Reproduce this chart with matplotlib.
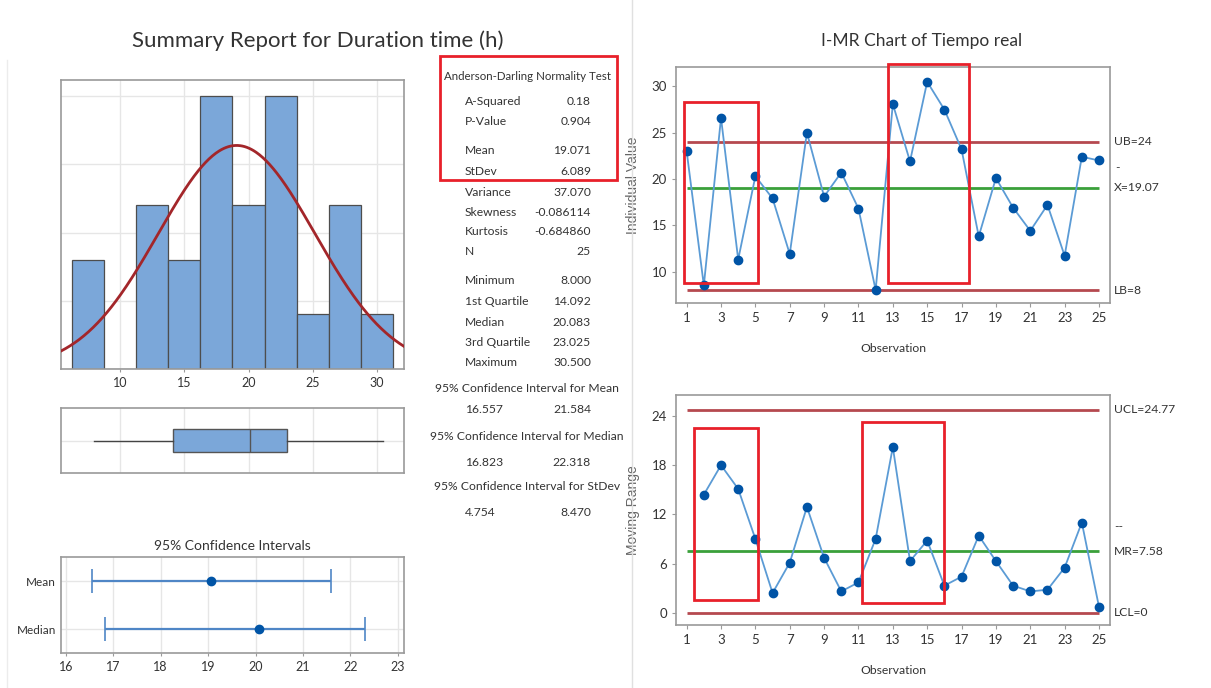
import numpy as np
import matplotlib
matplotlib.use("Agg")
import matplotlib.pyplot as plt
from matplotlib.patches import Rectangle
from matplotlib.lines import Line2D

plt.rcParams['font.family'] = ['Lato', 'DejaVu Sans']

# datos
obs = list(range(1, 26))
valores = [23.0, 8.5, 26.6, 11.3, 20.3, 17.9, 11.9, 25.0, 18.1, 20.7, 16.8, 8.0, 28.1,
           21.9, 30.5, 27.5, 23.2, 13.8, 20.1, 16.9, 14.4, 17.2, 11.7, 22.4, 22.0]
obs_mr = list(range(2, 26))
rango_movil = [14.4, 18.0, 15.1, 9.0, 2.4, 6.1, 12.9, 6.7, 2.6, 3.7, 9.0, 20.2, 6.3,
               8.8, 3.3, 4.4, 9.4, 6.3, 3.3, 2.6, 2.8, 5.5, 11.0, 0.7]
bordes_hist = [6.25, 8.75, 11.25, 13.75, 16.25, 18.75, 21.25, 23.75, 26.25, 28.75, 31.25]

media, desv = 19.071, 6.089
caja = dict(whislo=8.0, q1=14.092, med=20.083, q3=23.025, whishi=30.5)
ic_nombres = ['Mean', 'Median']
ic_centro = [19.071, 20.083]
ic_bajo = [16.557, 16.823]
ic_alto = [21.584, 22.318]

ub, x_barra, lb = 24, 19.07, 8
ucl, mr_barra, lcl = 24.77, 7.58, 0

resumen = [
    ('A-Squared', '0.18'), ('P-Value', '0.904'), None,
    ('Mean', '19.071'), ('StDev', '6.089'), ('Variance', '37.070'),
    ('Skewness', '-0.086114'), ('Kurtosis', '-0.684860'), ('N', '25'), None,
    ('Minimum', '8.000'), ('1st Quartile', '14.092'), ('Median', '20.083'),
    ('3rd Quartile', '23.025'), ('Maximum', '30.500'),
]
intervalos = [
    ('95% Confidence Interval for Mean', '16.557', '21.584'),
    ('95% Confidence Interval for Median', '16.823', '22.318'),
    ('95% Confidence Interval for StDev', '4.754', '8.470'),
]

W, H = 1211, 688
fig = plt.figure(figsize=(W / 100, H / 100), dpi=100)
fig.patch.set_facecolor('white')


def caja_px(l, t, r, b):
    return [l / W, 1 - b / H, (r - l) / W, (b - t) / H]


def fx(x):
    return x / W


def fy(y):
    return 1 - y / H


gris_borde = '#9a9a9a'
azul_barra = '#7ba7d9'
texto = '#333333'
rojo_caja = '#e8202a'
fs = 8.7


def estilo(ax):
    for s in ax.spines.values():
        s.set_color(gris_borde)
        s.set_linewidth(1.2)
    ax.tick_params(colors=texto, labelsize=9.5, length=3, color=gris_borde)


# separadores
fig.add_artist(Line2D([fx(632), fx(632)], [0, 1], color='#e0e0e0', lw=1))
fig.add_artist(Line2D([fx(7), fx(7)], [0, fy(60)], color='#ececec', lw=1))

fig.text(fx(318), fy(41), 'Summary Report for Duration time (h)', ha='center', va='center',
         fontsize=16, color=texto)
fig.text(fx(922), fy(41), 'I-MR Chart of Tiempo real', ha='center', va='center',
         fontsize=12.5, color=texto)

# histograma
ax = fig.add_axes(caja_px(61, 80, 404, 369))
ax.hist(valores, bins=bordes_hist, density=True, color=azul_barra, edgecolor='#4d4d4d',
        linewidth=0.9, zorder=2)
xs = np.linspace(5.4, 32.1, 300)
ax.plot(xs, np.exp(-0.5 * ((xs - media) / desv) ** 2) / (desv * np.sqrt(2 * np.pi)),
        color='#a3262a', lw=2, zorder=3)
ax.set_xlim(5.4, 32.1)
ax.set_ylim(0, 0.0847)
ax.set_xticks([10, 15, 20, 25, 30])
ax.set_yticks([0.02, 0.04, 0.06, 0.08])
ax.set_yticklabels([])
ax.grid(True, color='#e6e6e6', lw=1, zorder=0)
estilo(ax)
ax.tick_params(axis='y', length=0)
ax.tick_params(axis='x', length=2, labelsize=9)

# diagrama de caja
ax = fig.add_axes(caja_px(61, 408, 404, 473))
ax.bxp([caja], vert=False, positions=[1], widths=0.7, showfliers=False, showcaps=False,
       patch_artist=True,
       boxprops=dict(facecolor=azul_barra, edgecolor='#555555', lw=1),
       medianprops=dict(color='#555555', lw=1),
       whiskerprops=dict(color='#444444', lw=1))
ax.set_xlim(5.4, 32.1)
ax.set_ylim(0, 2)
ax.set_xticks([10, 15, 20, 25, 30])
ax.set_yticks([1])
ax.set_xticklabels([])
ax.set_yticklabels([])
ax.grid(True, color='#e6e6e6', lw=1, zorder=0)
ax.set_axisbelow(True)
estilo(ax)
ax.tick_params(length=0)

# intervalos de confianza
ax = fig.add_axes(caja_px(61, 557, 404, 653))
pos = [2, 1]
ax.errorbar(ic_centro, pos,
            xerr=[np.array(ic_centro) - np.array(ic_bajo), np.array(ic_alto) - np.array(ic_centro)],
            fmt='o', color='#0054a6', ecolor='#4f86c6', elinewidth=1.6, capsize=8.5,
            capthick=1.2, markersize=6, zorder=3)
ax.set_xlim(15.9, 23.13)
ax.set_ylim(0.5, 2.5)
ax.set_yticks(pos)
ax.set_yticklabels(ic_nombres)
ax.set_xticks(range(16, 24))
ax.grid(True, color='#e6e6e6', lw=1, zorder=0)
estilo(ax)
ax.tick_params(axis='y', length=0, labelsize=8.5)
ax.tick_params(axis='x', length=2, labelsize=9)
ax.set_title('95% Confidence Intervals', fontsize=10, color=texto, pad=5)

# texto de resumen
fig.text(fx(528), fy(76), 'Anderson-Darling Normality Test', ha='center', va='center',
         fontsize=8.3, color=texto)
filas_y = [101.7, 121.7, None, 150.7, 171.7, 192.7, 212.3, 231.7, 251.7, None,
           281, 301.7, 322.7, 342.7, 362.7]
for fila, yy in zip(resumen, filas_y):
    if fila is None:
        continue
    fig.text(fx(465), fy(yy), fila[0], ha='left', va='center', fontsize=fs, color=texto)
    fig.text(fx(591), fy(yy), fila[1], ha='right', va='center', fontsize=fs, color=texto)
for (tit, a, b), yt, yv in zip(intervalos, [388.3, 436.7, 486.7], [410, 463, 513]):
    fig.text(fx(527), fy(yt), tit, ha='center', va='center', fontsize=fs, color=texto)
    fig.text(fx(465), fy(yv), a, ha='left', va='center', fontsize=fs, color=texto)
    fig.text(fx(591), fy(yv), b, ha='right', va='center', fontsize=fs, color=texto)
fig.add_artist(Rectangle((fx(440), fy(180)), fx(617) - fx(440), fy(56) - fy(180),
                         transform=fig.transFigure, fill=False, edgecolor=rojo_caja, lw=2))

linea_azul = '#5b9bd5'
punto_azul = '#0054a6'
rojo_lim = '#b5494f'
verde = '#3aa03a'


def carta(ax, x, y, ylim, yticks, ylabel, cajas):
    ax.plot(x, y, '-', color=linea_azul, lw=1.3, zorder=3)
    ax.plot(x, y, 'o', color=punto_azul, markersize=6, zorder=4)
    ax.set_xlim(0.38, 25.64)
    ax.set_ylim(*ylim)
    ax.set_xticks(range(1, 26, 2))
    ax.set_yticks(yticks)
    estilo(ax)
    ax.set_xlabel('Observation', fontsize=fs, color=texto, labelpad=14)
    ax.set_ylabel(ylabel, fontsize=10, color='#666666', family='Liberation Sans', labelpad=8)
    for (x0, x1, y0, y1) in cajas:
        ax.add_patch(Rectangle((x0, y0), x1 - x0, y1 - y0, fill=False, edgecolor=rojo_caja,
                               lw=2, clip_on=False, zorder=6))


# carta I
ax = fig.add_axes(caja_px(676, 67, 1110, 303))
carta(ax, obs, valores, (6.6, 32.1), [10, 15, 20, 25, 30], 'Individual Value',
      [(0.84, 5.15, 8.78, 28.35), (12.7, 17.41, 8.78, 32.4)])
ax.hlines([ub, lb], 1, 25, color=rojo_lim, lw=2, zorder=2)
ax.hlines(x_barra, 1, 25, color=verde, lw=2, zorder=2)
ax.text(1.01, ub, 'UB=%g' % ub, transform=ax.get_yaxis_transform(), va='center',
        fontsize=fs, color=texto)
ax.text(1.01, lb, 'LB=%g' % lb, transform=ax.get_yaxis_transform(), va='center',
        fontsize=fs, color=texto)
ax.text(1.01, x_barra + 0.6, 'X=%.2f' % x_barra, transform=ax.get_yaxis_transform(),
        va='top', fontsize=fs, color=texto)
ax.text(1.012, x_barra + 2.2, '-', transform=ax.get_yaxis_transform(), va='center',
        fontsize=fs, color=texto)

# carta MR
ax = fig.add_axes(caja_px(676, 395, 1110, 625))
carta(ax, obs_mr, rango_movil, (-1.5, 26.56), [0, 6, 12, 18, 24], 'Moving Range',
      [(1.42, 5.13, 1.55, 22.56), (11.23, 15.96, 1.15, 23.3)])
ax.hlines([ucl, lcl], 1, 25, color=rojo_lim, lw=2, zorder=2)
ax.hlines(mr_barra, 1, 25, color=verde, lw=2, zorder=2)
ax.text(1.01, ucl, 'UCL=%.2f' % ucl, transform=ax.get_yaxis_transform(), va='center',
        fontsize=fs, color=texto)
ax.text(1.01, lcl, 'LCL=%g' % lcl, transform=ax.get_yaxis_transform(), va='center',
        fontsize=fs, color=texto)
ax.text(1.01, mr_barra + 0.5, 'MR=%.2f' % mr_barra, transform=ax.get_yaxis_transform(),
        va='top', fontsize=fs, color=texto)
ax.text(1.01, mr_barra + 2.9, '--', transform=ax.get_yaxis_transform(), va='center',
        fontsize=fs, color=texto)

fig.savefig('out.png', dpi=100)
